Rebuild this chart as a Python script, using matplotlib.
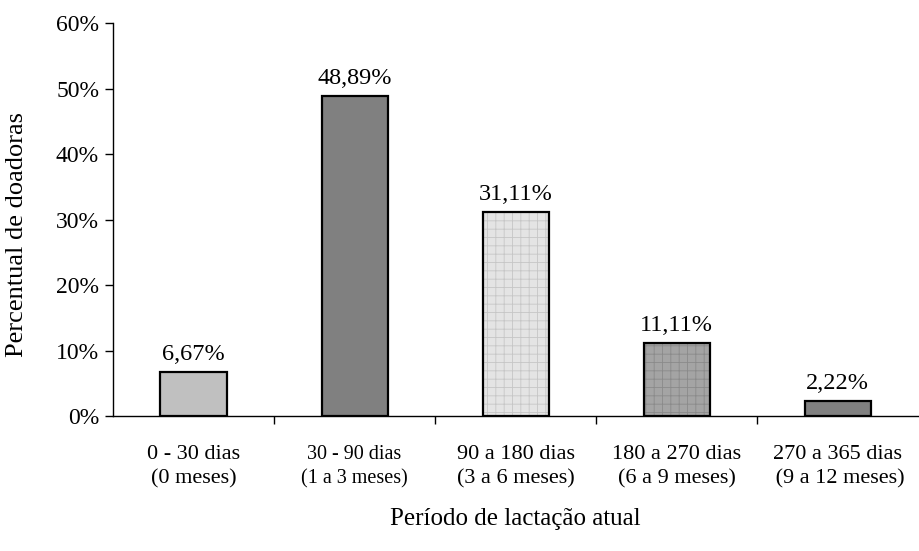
import matplotlib
matplotlib.use("Agg")
import matplotlib.pyplot as plt
from matplotlib.ticker import FuncFormatter, FixedLocator

categories = ["0 - 30 dias\n(0 meses)", "30 - 90 dias\n(1 a 3 meses)", "90 a 180 dias\n(3 a 6 meses)",
              "180 a 270 dias\n(6 a 9 meses)", "270 a 365 dias\n (9 a 12 meses)"]
values = [6.67, 48.89, 31.11, 11.11, 2.22]
value_labels = ["6,67%", "48,89%", "31,11%", "11,11%", "2,22%"]
yticks = [0, 10, 20, 30, 40, 50, 60]

face_colors = ["#c0c0c0", "#808080", "#e4e4e4", "#a4a4a4", "#808080"]
hatches = [None, None, "++", "++", None]
hatch_colors = [None, None, "#c6c6c6", "#8a8a8a", None]

plt.rcParams["font.family"] = ["Liberation Serif", "DejaVu Serif"]
plt.rcParams["hatch.linewidth"] = 0.6

fig = plt.figure(figsize=(9.2, 5.51), dpi=100)
ax = fig.add_axes([0.1228, 0.245, 0.8752, 0.713])

x = list(range(len(values)))
width = 0.41
for i, v in enumerate(values):
    if hatches[i]:
        ax.bar(i, v, width=width, color=face_colors[i], edgecolor=hatch_colors[i],
               hatch=hatches[i], linewidth=0, zorder=2)
        ax.bar(i, v, width=width, fill=False, edgecolor="black", linewidth=1.6, zorder=3)
    else:
        ax.bar(i, v, width=width, color=face_colors[i], edgecolor="black", linewidth=1.6, zorder=3)
    ax.text(i, v + 1.1, value_labels[i], ha="center", va="bottom", fontsize=17.5)

ax.set_xlim(-0.5, len(values) - 0.5)
ax.set_ylim(0, 60)
ax.set_yticks(yticks)
ax.yaxis.set_major_formatter(FuncFormatter(lambda v, p: f"{v:.0f}%"))
ax.tick_params(axis="y", labelsize=17, length=6, width=1, direction="out", pad=4)

# category labels centred under bars, tick marks between categories
ax.set_xticks(x)
ax.set_xticklabels(categories)
ax.tick_params(axis="x", which="major", length=0, pad=21, labelsize=16)
ax.xaxis.set_minor_locator(FixedLocator([i + 0.5 for i in range(len(values) - 1)]))
ax.tick_params(axis="x", which="minor", length=6, width=1, direction="out")
for lbl in ax.get_xticklabels():
    lbl.set_linespacing(1.35)
ax.get_xticklabels()[1].set_fontsize(14.5)

for s in ["top", "right"]:
    ax.spines[s].set_visible(False)
ax.spines["left"].set_linewidth(1)
ax.spines["bottom"].set_linewidth(1)

ax.set_ylabel("Percentual de doadoras", fontsize=19)
ax.yaxis.set_label_coords(-0.106, 0.463)
ax.set_xlabel("Período de lactação atual", fontsize=18, labelpad=14)

fig.savefig("out.png", dpi=100)
